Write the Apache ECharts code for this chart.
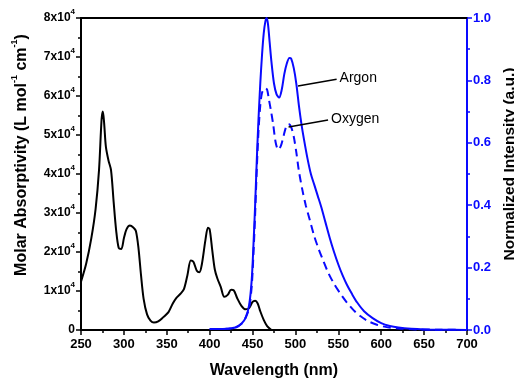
<!DOCTYPE html>
<html><head><meta charset="utf-8">
<script src="https://cdn.jsdelivr.net/npm/echarts@6/dist/echarts.min.js"></script>
<style>html,body{margin:0;padding:0;background:#fff}#c{width:514px;height:381px}</style>
</head><body><div id="c"></div>
<script>
// Absorption spectrum: [wavelength nm, molar absorptivity]
const absorption = [
[250,12400],[256,17000],[262,23500],[267,31000],[271,41000],[274,54000],[275.5,56000],[277,53000],[279,47000],
[282,43500],[285,41000],[288,33000],[291,25500],[294,21000],[297,20800],[300,23500],[303,25800],[307,26800],
[311,26300],[314,25400],[317,21000],[320,14000],[323,8000],[327,4000],[331,2400],[335,1900],[340,2200],
[346,3300],[352,4600],[357,6800],[361,8200],[366,9300],[370,10500],[374,14000],[378,17800],[381,17500],
[385,15200],[388,14800],[391,17000],[395,23000],[398,26200],[400,25800],[403,20500],[406,15500],[409,13200],
[413,11000],[417,8500],[421,9000],[425,10300],[428,10200],[432,8200],[437,6200],[442,5300],[446,5600],
[450,7200],[453,7500],[456,6800],[459,4800],[463,2600],[467,1000],[472,0]
];
// Emission under Argon (normalized)
const argon = [
[400,0.003],[410,0.003],[420,0.004],[430,0.008],[437,0.02],[442,0.04],[446,0.08],[449,0.16],[451,0.27],
[453,0.4],[455,0.55],[457,0.68],[459,0.79],[461,0.88],[463,0.95],[465,0.99],[466.5,1.0],[468,0.98],[470,0.92],
[472,0.86],[475,0.79],[478,0.755],[481,0.745],[484,0.77],[487,0.82],[490,0.855],[493,0.872],[495,0.87],
[498,0.84],[501,0.79],[504,0.72],[507,0.66],[510,0.61],[514,0.55],[518,0.5],[522,0.465],[526,0.43],
[530,0.395],[535,0.345],[540,0.295],[545,0.25],[550,0.21],[555,0.175],[560,0.145],[566,0.115],[572,0.088],
[580,0.06],[590,0.038],[600,0.022],[610,0.013],[620,0.008],[635,0.004],[650,0.002],[670,0.001],[700,0]
];
// Emission under Oxygen (normalized)
const oxygen = [
[400,0.003],[410,0.003],[420,0.004],[430,0.008],[437,0.02],[442,0.04],[446,0.07],[449,0.14],[451,0.24],
[453,0.37],[455,0.52],[457,0.64],[459,0.72],[461,0.76],[463,0.77],[465,0.775],[467,0.77],[469,0.74],
[471,0.71],[474,0.66],[477,0.6],[480,0.578],[483,0.59],[486,0.62],[489,0.65],[492,0.66],[495,0.65],
[498,0.62],[501,0.57],[504,0.51],[508,0.45],[512,0.4],[517,0.35],[522,0.3],[527,0.26],[532,0.225],
[538,0.185],[545,0.148],[552,0.118],[560,0.088],[568,0.063],[576,0.044],[585,0.028],[595,0.017],
[605,0.01],[620,0.005],[640,0.002],[670,0.001],[700,0]
];
const annotations = [
  {name:'Argon', from:[503,0.782], to:[548,0.804]},
  {name:'Oxygen', from:[492,0.651], to:[538,0.673]}
];

const FONT = 'Arial, "Liberation Sans", sans-serif';
const BLUE = '#0a0aff';
const chart = echarts.init(document.getElementById('c'), null, {renderer:'canvas'});

function mkLine(a){
  return {
    silent:true, symbol:['none','none'], animation:false,
    lineStyle:{color:'#000', width:1.5, type:'solid'},
    label:{show:true, position:'end', formatter:a.name, color:'#000', fontFamily:FONT, fontSize:14, distance:3},
    data:[[{coord:a.from},{coord:a.to}]]
  };
}

chart.setOption({
  animation:false,
  backgroundColor:'#fff',
  grid:{left:81, right:47, top:18, bottom:51, containLabel:false, outerBoundsMode:'none'},
  xAxis:[{
    type:'value', min:250, max:700, interval:50,
    name:'Wavelength (nm)', nameLocation:'middle', nameGap:33,
    nameTextStyle:{fontFamily:FONT, fontWeight:'bold', fontSize:16, color:'#000'},
    axisLine:{onZero:false, lineStyle:{color:'#000', width:2}},
    axisTick:{show:true, length:5, lineStyle:{color:'#000', width:1.5}},
    minorTick:{show:true, splitNumber:2, length:3, lineStyle:{color:'#000', width:1.5}},
    axisLabel:{fontFamily:FONT, fontWeight:'bold', fontSize:13, color:'#000', margin:8},
    splitLine:{show:false}
  },{
    type:'value', min:250, max:700, position:'top',
    axisLine:{show:true, onZero:false, lineStyle:{color:'#000', width:2}},
    axisTick:{show:false}, axisLabel:{show:false}, splitLine:{show:false}
  }],
  yAxis:[{
    type:'value', min:0, max:80000, interval:10000, position:'left',
    name:'{m|Molar Absorptivity (L mol}{s|-1}{m| cm}{s|-1}{m|)}', nameLocation:'middle', nameGap:47,
    nameTextStyle:{fontFamily:FONT, fontWeight:'bold', fontSize:16, color:'#000', padding:[0,0,0,38],
      rich:{m:{fontFamily:FONT, fontWeight:'bold', fontSize:16, color:'#000', lineHeight:24},
            s:{fontFamily:FONT, fontWeight:'bold', fontSize:9, color:'#000', verticalAlign:'top', lineHeight:11}}},
    axisLine:{show:true, onZero:false, lineStyle:{color:'#000', width:2}},
    axisTick:{show:true, length:5, lineStyle:{color:'#000', width:1.5}},
    minorTick:{show:true, splitNumber:2, length:3, lineStyle:{color:'#000', width:1.5}},
    axisLabel:{fontFamily:FONT, fontWeight:'bold', fontSize:12, color:'#000', margin:6,
      formatter:v=> v===0 ? '0' : '{a|'+(v/10000)+'x10}{b|4}',
      rich:{a:{fontFamily:FONT, fontWeight:'bold', fontSize:12, color:'#000', lineHeight:20},
            b:{fontFamily:FONT, fontWeight:'bold', fontSize:8, color:'#000', verticalAlign:'top', lineHeight:10}}},
    splitLine:{show:false}
  },{
    type:'value', min:0, max:1, interval:0.2, position:'right',
    name:'Normalized Intensity (a.u.)', nameLocation:'middle', nameGap:33, nameRotate:90,
    nameTextStyle:{fontFamily:FONT, fontWeight:'bold', fontSize:15.5, color:'#000', padding:[0,0,0,20]},
    axisLine:{show:true, onZero:false, lineStyle:{color:BLUE, width:2}},
    axisTick:{show:true, length:5, lineStyle:{color:BLUE, width:1.5}},
    minorTick:{show:true, splitNumber:2, length:3, lineStyle:{color:BLUE, width:1.5}},
    axisLabel:{fontFamily:FONT, fontWeight:'bold', fontSize:13, color:BLUE, margin:6, formatter:v=>v.toFixed(1)},
    splitLine:{show:false}
  }],
  series:[
    {type:'line', xAxisIndex:0, yAxisIndex:0, data:absorption, showSymbol:false, smooth:0.3,
     lineStyle:{color:'#000', width:2}, z:3},
    {type:'line', xAxisIndex:0, yAxisIndex:1, data:argon, showSymbol:false, smooth:0.3,
     lineStyle:{color:BLUE, width:2}, z:4, markLine:mkLine(annotations[0])},
    {type:'line', xAxisIndex:0, yAxisIndex:1, data:oxygen, showSymbol:false, smooth:0.3,
     lineStyle:{color:BLUE, width:2, type:[8,5]}, z:4, markLine:mkLine(annotations[1])}
  ]
});
</script></body></html>
